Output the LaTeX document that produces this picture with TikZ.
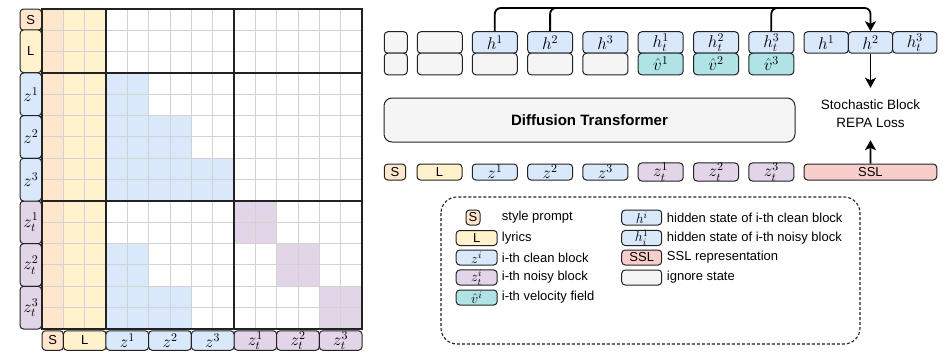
\RequirePackage{fix-cm}
\documentclass[tikz,border=0pt]{standalone}
\usepackage{amsmath}
\usepackage{fontspec}
\setmainfont{Liberation Sans}
\setsansfont{Liberation Sans}
\usetikzlibrary{arrows.meta,positioning,calc}
\definecolor{vs}{HTML}{FFE6CC}
\definecolor{vl}{HTML}{FFF2CC}
\definecolor{vz}{HTML}{DAE8FC}
\definecolor{vzt}{HTML}{E1D5E7}
\definecolor{vv}{HTML}{B0E3E6}
\definecolor{vssl}{HTML}{F8CECC}
\definecolor{vign}{HTML}{F5F5F5}
\definecolor{vgrid}{HTML}{D2D2D2}
\definecolor{vedge}{HTML}{222222}
\newcommand{\fsz}{\fontsize{13}{16}\selectfont}
\newcommand{\msz}{\fontsize{17}{18}\selectfont}
\tikzset{
  tok/.style={draw=vedge,line width=1pt,rounded corners=3.5pt,inner sep=0pt,font=\fsz,minimum height=21.5pt},
  mtok/.style={tok,font=\msz},
  ktok/.style={tok,font=\fontsize{14}{15}\selectfont,minimum height=15pt},
  gridl/.style={draw=vgrid,line width=1pt},
  blk/.style={draw=vedge,line width=1.3pt},
  wire/.style={draw=black,line width=1.8pt,rounded corners=6pt},
  arr/.style={wire,-{Stealth[length=10pt,width=11pt,inset=2.5pt]}},
  ktxt/.style={anchor=west,inner sep=0pt,font=\fsz},
  legbox/.style={draw=vedge,line width=1.1pt,dash pattern=on 3pt off 2pt,rounded corners=16pt},
}

\begin{document}
\begin{tikzpicture}[x=1pt,y=-1pt]
  \useasboundingbox (0,0) rectangle (947,353);
  \def\cw{21.333}
  % attention mask
  \fill[vs] (42,9) rectangle (63.33,329);
  \fill[vl] (63.33,9) rectangle (106,329);
  \foreach \i in {1,2,3}
    \fill[vz] (106,{73+(\i-1)*42.667}) rectangle ({106+\i*42.667},{73+\i*42.667});
  \foreach \i in {2,3}
    \fill[vz] (106,{201+(\i-1)*42.667}) rectangle ({106+(\i-1)*42.667},{201+\i*42.667});
  \foreach \i in {1,2,3}
    \fill[vzt] ({234+(\i-1)*42.667},{201+(\i-1)*42.667}) rectangle ({234+\i*42.667},{201+\i*42.667});
  \foreach \k in {0,...,15} {
    \draw[gridl] ({42+\k*\cw},9) -- ({42+\k*\cw},329);
    \draw[gridl] (42,{9+\k*\cw}) -- (362,{9+\k*\cw});
  }
  \draw[blk] (42,9) rectangle (362,329);
  \draw[blk] (106,9) -- (106,329);
  \draw[blk] (234,9) -- (234,329);
  \draw[blk] (42,73) -- (362,73);
  \draw[blk] (42,201) -- (362,201);
  % row labels
  \node[tok,fill=vs,minimum width=21.5pt,minimum height=21.3pt] (ls) at (30.8,19.7) {S};
  \node[tok,fill=vl,minimum width=21.5pt,minimum height=42.7pt] (ll) at (30.8,51.3) {L};
  \foreach \i in {1,2,3} {
    \node[mtok,fill=vz,minimum width=21.5pt,minimum height=42.7pt] (lz\i) at (30.8,{73+(2*\i-1)*\cw}) {$z^{\i}$};
    \node[mtok,fill=vzt,minimum width=21.5pt,minimum height=42.7pt] (lt\i) at (30.8,{201+(2*\i-1)*\cw}) {$z^{\i}_t$};
  }
  % column labels
  \node[tok,fill=vs,minimum width=21.3pt,minimum height=19.5pt] (cs) at (52.7,340.5) {S};
  \node[tok,fill=vl,minimum width=42.7pt,minimum height=19.5pt] (cl) at (84.8,340.5) {L};
  \foreach \i in {1,2,3} {
    \node[mtok,fill=vz,minimum width=42.7pt,minimum height=19.5pt] (cz\i) at ({106+(2*\i-1)*\cw},340.5) {$z^{\i}$};
    \node[mtok,fill=vzt,minimum width=42.7pt,minimum height=19.5pt] (ct\i) at ({234+(2*\i-1)*\cw},340.5) {$z^{\i}_t$};
  }
  % hidden states
  \node[tok,fill=vign,minimum width=23pt] (ia1) at (395.8,42.5) {};
  \node[tok,fill=vign,minimum width=23pt] (ib1) at (395.8,64) {};
  \node[tok,fill=vign,minimum width=45pt] (ia2) at (439.8,42.5) {};
  \node[tok,fill=vign,minimum width=45pt] (ib2) at (439.8,64) {};
  \foreach \i/\x in {1/494.8,2/550.1,3/605.4} {
    \node[mtok,fill=vz,minimum width=45pt] (th\i) at (\x,42.5) {$h^{\i}$};
    \node[tok,fill=vign,minimum width=45pt] (tb\i) at (\x,64) {};
  }
  \foreach \i/\x in {1/660.7,2/716,3/771.3} {
    \node[mtok,fill=vz,minimum width=45pt] (tt\i) at (\x,42.5) {$h^{\i}_t$};
    \node[mtok,fill=vv,minimum width=45pt] (tv\i) at (\x,64) {$\hat{v}^{\i}$};
  }
  \node[mtok,fill=vz,minimum width=44.3pt] (rh1) at (826.2,42.5) {$h^{1}$};
  \node[mtok,fill=vz,minimum width=44.3pt] (rh2) at (870.5,42.5) {$h^{2}$};
  \node[mtok,fill=vz,minimum width=44.3pt] (rh3) at (914.8,42.5) {$h^{3}_t$};
  % backbone and inputs
  \node[tok,fill=vign,minimum width=411pt,minimum height=44pt,rounded corners=8pt,font=\fontsize{15}{18}\selectfont\bfseries] (dit) at (589.5,120) {Diffusion Transformer};
  \node[tok,fill=vs,minimum width=21.4pt,minimum height=16pt] (bs) at (395,172) {S};
  \node[tok,fill=vl,minimum width=45pt,minimum height=16pt] (bl) at (439.5,172) {L};
  \foreach \i/\x in {1/494.8,2/550.1,3/605.4}
    \node[mtok,fill=vz,minimum width=45pt,minimum height=16pt] (bz\i) at (\x,172) {$z^{\i}$};
  \foreach \i/\x in {1/660.7,2/716,3/771.3}
    \node[mtok,fill=vzt,minimum width=45pt,minimum height=16pt] (bt\i) at (\x,172) {$z^{\i}_t$};
  \node[tok,fill=vssl,minimum width=132.7pt,minimum height=16pt] (bssl) at (870.4,172) {SSL};
  \node[font=\fontsize{13.5}{18}\selectfont,align=center,inner sep=0pt,minimum height=52pt] (loss) at (870.5,114) {Stochastic Block\\REPA Loss};
  % connectors
  \coordinate (bus) at (870.5,8);
  \draw[arr] (th1.north) |- (bus) -- (rh2.north);
  \draw[wire] (th2.north) |- ([xshift=-20pt]bus);
  \draw[wire] (tt3.north) |- ([xshift=-20pt]bus);
  \draw[arr] (rh2.south) -- (loss.north);
  \draw[arr] (bssl.north) -- (loss.south);
  % legend
  \draw[legbox] (441,197) rectangle (860,344);
  \node[tok,fill=vs,minimum width=14pt,minimum height=15pt] (ks) at (473,217.5) {S};
  \node[ktxt] (ts) at (501.7,217.5) {style prompt};
  \node[tok,fill=vl,minimum width=41pt,minimum height=15pt] (kl) at (476.7,238) {L};
  \node[ktxt] (tl) at (501.7,238) {lyrics};
  \node[ktok,fill=vz,minimum width=41pt] (kz) at (476.7,257.5) {$z^{i}$};
  \node[ktxt] (tz) at (501.7,257.5) {i-th clean block};
  \node[ktok,fill=vzt,minimum width=41pt] (kt) at (476.7,277.5) {$z^{i}_t$};
  \node[ktxt] (tt) at (501.7,277.5) {i-th noisy block};
  \node[ktok,fill=vv,minimum width=41pt] (kv) at (476.7,297.5) {$\hat{v}^{i}$};
  \node[ktxt] (tv) at (501.7,297.5) {i-th velocity field};
  \node[ktok,fill=vz,minimum width=40pt] (kh) at (641.7,217.5) {$h^{i}$};
  \node[ktxt] (th) at (666.7,217.5) {hidden state of i-th clean block};
  \node[ktok,fill=vz,minimum width=40pt] (kn) at (641.7,238) {$h^{1}_{i}$};
  \node[ktxt] (tn) at (666.7,238) {hidden state of i-th noisy block};
  \node[tok,fill=vssl,minimum width=40pt,minimum height=15pt] (kssl) at (641.7,257.5) {SSL};
  \node[ktxt] (tssl) at (666.7,257.5) {SSL representation};
  \node[tok,fill=vign,minimum width=40pt,minimum height=15pt] (kign) at (641.7,277.5) {};
  \node[ktxt] (tign) at (666.7,277.5) {ignore state};
\end{tikzpicture}
\end{document}
